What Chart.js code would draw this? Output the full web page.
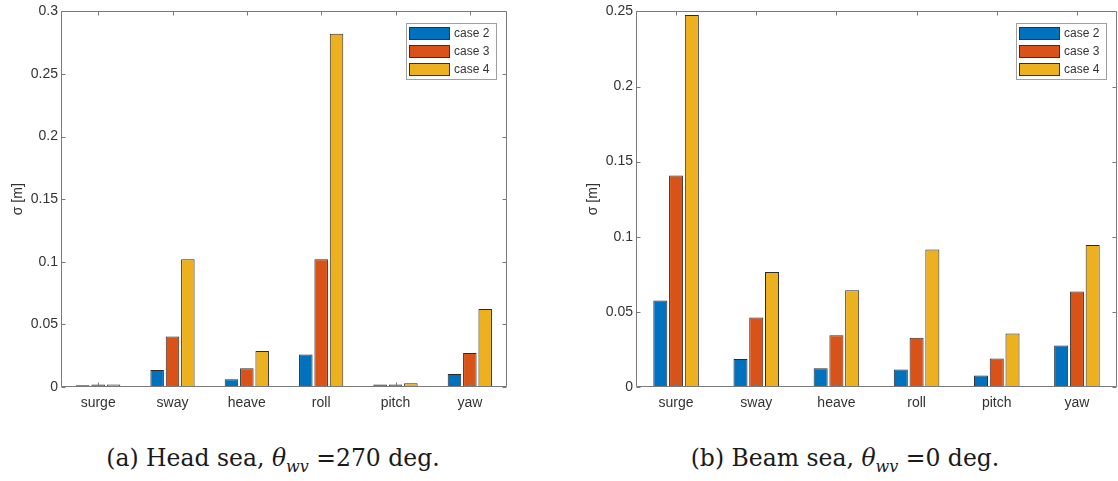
<!DOCTYPE html>
<html>
<head>
<meta charset="utf-8">
<script src="https://cdn.jsdelivr.net/npm/chart.js@4.4.1/dist/chart.umd.min.js"></script>
<style>
  body { margin: 0; background: #fff; }
  #wrap { position: relative; width: 1118px; height: 481px; overflow: hidden; }
  canvas { position: absolute; top: 0; }
  .caption {
    position: absolute; top: 444px; font-family: "DejaVu Serif", serif;
    font-size: 23.5px; line-height: 28px; color: #1a1a1a; white-space: nowrap;
    transform: translateX(-50%);
  }
  .caption i sub { font-size: 16px; line-height: 0; }
</style>
</head>
<body>
<div id="wrap">
  <canvas id="head" width="560" height="420" style="left:0"></canvas>
  <canvas id="beam" width="558" height="420" style="left:560px"></canvas>
  <div class="caption" style="left:273px">(a) Head sea, <i>θ<sub>wv</sub></i> =270 deg.</div>
  <div class="caption" style="left:845px">(b) Beam sea, <i>θ<sub>wv</sub></i> =0 deg.</div>
</div>
<script>
const categories = ["surge", "sway", "heave", "roll", "pitch", "yaw"];
const seriesNames = ["case 2", "case 3", "case 4"];
const seriesColors = ["#0072BD", "#D95319", "#EDB120"];

// head sea (a)
const headCase2 = [0.0013, 0.0135, 0.0061, 0.0260, 0.0019, 0.0104];
const headCase3 = [0.0019, 0.0403, 0.0149, 0.1020, 0.0019, 0.0271];
const headCase4 = [0.0020, 0.1020, 0.0287, 0.2822, 0.0029, 0.0624];
const headTicks = [0, 0.05, 0.1, 0.15, 0.2, 0.25, 0.3];
const headTickLabels = ["0", "0.05", "0.1", "0.15", "0.2", "0.25", "0.3"];

// beam sea (b)
const beamCase2 = [0.0575, 0.0186, 0.0124, 0.0117, 0.0077, 0.0277];
const beamCase3 = [0.1407, 0.0462, 0.0345, 0.0327, 0.0190, 0.0635];
const beamCase4 = [0.2476, 0.0765, 0.0644, 0.0916, 0.0356, 0.0945];
const beamTicks = [0, 0.05, 0.1, 0.15, 0.2, 0.25];
const beamTickLabels = ["0", "0.05", "0.1", "0.15", "0.2", "0.25"];

const axisColor = "#7a7a7a";
const textColor = "#333333";
const sansFont = "'Liberation Sans', Arial, sans-serif";

// box round the axes with inward ticks, like matlab
const framePlugin = {
    id: "frame",
    afterDatasetsDraw(chart) {
        const { ctx, chartArea: a, scales } = chart;
        const L = Math.round(a.left) + 0.5, R = Math.round(a.right) - 0.5;
        const T = Math.round(a.top) + 0.5, B = Math.round(a.bottom) - 0.5;
        ctx.save();
        ctx.strokeStyle = axisColor;
        ctx.lineWidth = 1;
        ctx.beginPath();
        ctx.rect(L, T, R - L, B - T);
        scales.y.ticks.forEach(t => {
            const py = Math.round(scales.y.getPixelForValue(t.value)) + 0.5;
            ctx.moveTo(L, py); ctx.lineTo(L + 4, py);
            ctx.moveTo(R, py); ctx.lineTo(R - 4, py);
        });
        categories.forEach((c, i) => {
            const px = Math.round(scales.x.getPixelForValue(i)) + 0.5;
            ctx.moveTo(px, B); ctx.lineTo(px, B - 4);
            ctx.moveTo(px, T); ctx.lineTo(px, T + 4);
        });
        ctx.stroke();
        ctx.restore();
    },
    afterDraw(chart) {
        // legend in the top right corner of the axes
        const { ctx, chartArea: a } = chart;
        const w = 90, h = 56;
        const x0 = Math.round(a.right) - 11 - w, y0 = Math.round(a.top) + 12;
        ctx.save();
        ctx.fillStyle = "#fff";
        ctx.fillRect(x0, y0, w, h);
        ctx.strokeStyle = "#a0a0a0";
        ctx.lineWidth = 1;
        ctx.strokeRect(x0 + 0.5, y0 + 0.5, w, h);
        ctx.font = "12px " + sansFont;
        ctx.textBaseline = "middle";
        chart.data.datasets.forEach((ds, i) => {
            const sy = y0 + 4 + i * 18;
            ctx.fillStyle = ds.backgroundColor;
            ctx.fillRect(x0 + 3, sy, 41, 13);
            ctx.strokeStyle = "#333";
            ctx.strokeRect(x0 + 3.5, sy + 0.5, 40, 12);
            ctx.fillStyle = textColor;
            ctx.fillText(ds.label, x0 + 48, sy + 7);
        });
        ctx.restore();
    }
};

function makeChart(id, values, ticks, tickLabels, yMax, yWidth, titlePad, catPct, barPct) {
    const datasets = seriesNames.map((name, i) => ({
        label: name,
        data: values[i],
        backgroundColor: seriesColors[i],
        borderColor: "#2b2b2b",
        borderWidth: 1,
        categoryPercentage: catPct,
        barPercentage: barPct
    }));

    return new Chart(document.getElementById(id).getContext("2d"), {
        type: "bar",
        data: { labels: categories, datasets: datasets },
        options: {
            responsive: false,
            animation: false,
            layout: { padding: { top: 10, right: id === "head" ? 53 : 1, left: 0, bottom: 0 } },
            plugins: { legend: { display: false }, tooltip: { enabled: false } },
            scales: {
                x: {
                    grid: { display: false, drawTicks: false },
                    border: { display: false },
                    ticks: { color: textColor, font: { family: sansFont, size: 14 }, padding: 8 },
                    afterFit: s => { s.height = 33; }
                },
                y: {
                    min: 0,
                    max: yMax,
                    grid: { display: false, drawTicks: false },
                    border: { display: false },
                    afterBuildTicks: s => { s.ticks = ticks.map(v => ({ value: v })); },
                    ticks: {
                        color: textColor,
                        font: { family: sansFont, size: 14 },
                        padding: 3,
                        callback: (v, i) => tickLabels[i]
                    },
                    title: {
                        display: true,
                        text: "σ [m]",
                        color: textColor,
                        font: { family: sansFont, size: 14 },
                        padding: { top: titlePad, bottom: 0 }
                    },
                    afterFit: s => { s.width = yWidth; }
                }
            }
        },
        plugins: [framePlugin]
    });
}

makeChart("head", [headCase2, headCase3, headCase4], headTicks, headTickLabels, 0.3, 61, 10, 0.62, 0.88);
makeChart("beam", [beamCase2, beamCase3, beamCase4], beamTicks, beamTickLabels, 0.25, 76, 25, 0.59, 0.89);
</script>
</body>
</html>
